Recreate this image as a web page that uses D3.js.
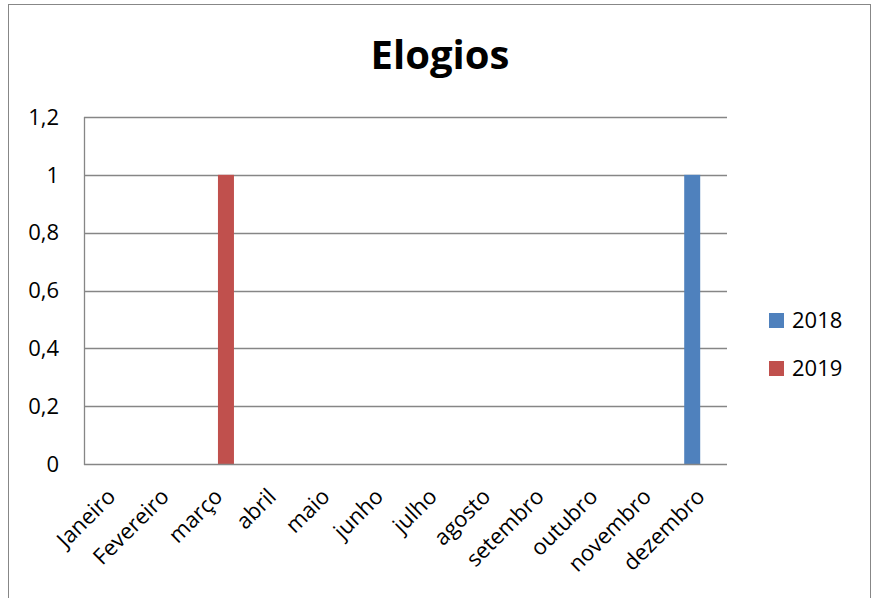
<!DOCTYPE html>
<html>
<head>
<meta charset="utf-8">
<script src="https://cdn.jsdelivr.net/npm/d3@7"></script>
<style>
  html, body { margin: 0; padding: 0; background: #fff; }
  svg { display: block; font-family: "Open Sans", "Noto Sans", sans-serif; }
</style>
</head>
<body>
<svg id="chart" width="873" height="598"></svg>
<script>
const months = ["Janeiro","Fevereiro","março","abril","maio","junho","julho","agosto","setembro","outubro","novembro","dezembro"];
const seriesNames = ["2018","2019"];
const values2018 = [0,0,0,0,0,0,0,0,0,0,0,1];
const values2019 = [0,0,1,0,0,0,0,0,0,0,0,0];
const yTicks = [0,0.2,0.4,0.6,0.8,1,1.2];
const colors = ["#4F81BD","#C0504D"];
const titleText = "Elogios";

const svg = d3.select("#chart");
const plot = {left: 84, right: 727, top: 117, bottom: 464};

// outer frame
svg.append("rect")
  .attr("x", 8.5).attr("y", 4.5)
  .attr("width", 862).attr("height", 620)
  .attr("fill", "#fff").attr("stroke", "#878787").attr("stroke-width", 1);

const x0 = d3.scaleBand().domain(months).range([plot.left, plot.right]).paddingInner(0).paddingOuter(0);
const barW = 16;
const groupW = barW * seriesNames.length;
const x1 = d3.scaleBand().domain(seriesNames)
  .range([(x0.bandwidth() - groupW) / 2, (x0.bandwidth() + groupW) / 2]).padding(0);
const y = d3.scaleLinear().domain([0, 1.2]).range([plot.bottom, plot.top]);

// gridlines
svg.append("g").selectAll("line").data(yTicks.filter(d => d > 0)).enter().append("line")
  .attr("x1", plot.left).attr("x2", plot.right)
  .attr("y1", d => Math.round(y(d)) + 0.5).attr("y2", d => Math.round(y(d)) + 0.5)
  .attr("stroke", "#868686").attr("stroke-width", 1.3);

// bars
const data = months.map((m, i) => ({month: m, vals: [values2018[i], values2019[i]]}));
const groups = svg.append("g").selectAll("g").data(data).enter().append("g")
  .attr("transform", d => `translate(${x0(d.month)},0)`);
groups.selectAll("rect").data(d => d.vals.map((v, j) => ({series: seriesNames[j], v, j})))
  .enter().append("rect")
  .attr("x", d => x1(d.series))
  .attr("width", x1.bandwidth())
  .attr("y", d => y(d.v))
  .attr("height", d => y(0) - y(d.v))
  .attr("fill", d => colors[d.j]);

// axes lines
svg.append("line").attr("x1", plot.left + 0.5).attr("x2", plot.left + 0.5)
  .attr("y1", plot.top).attr("y2", plot.bottom + 1)
  .attr("stroke", "#868686").attr("stroke-width", 1.3);
svg.append("line").attr("x1", plot.left).attr("x2", plot.right)
  .attr("y1", plot.bottom + 0.5).attr("y2", plot.bottom + 0.5)
  .attr("stroke", "#868686").attr("stroke-width", 1.3);

// y tick labels
const fmt = d => String(d3.format("~g")(d)).replace(".", ",");
svg.append("g").selectAll("text").data(yTicks).enter().append("text")
  .attr("x", 59).attr("y", d => y(d))
  .attr("dy", "0.35em")
  .attr("text-anchor", "end")
  .attr("font-size", 22)
  .attr("fill", "#000")
  .text(fmt);

// x tick labels
svg.append("g").selectAll("text").data(months).enter().append("text")
  .attr("transform", d => `translate(${x0(d) + x0.bandwidth() / 2 + 6},498) rotate(-45)`)
  .attr("text-anchor", "end")
  .attr("font-size", 22)
  .attr("fill", "#000")
  .text(d => d);

// title
svg.append("text")
  .attr("x", 440).attr("y", 69)
  .attr("text-anchor", "middle")
  .attr("font-size", 40).attr("font-weight", "bold")
  .attr("fill", "#000")
  .text(titleText);

// legend
const legend = svg.append("g").selectAll("g").data(seriesNames).enter().append("g")
  .attr("transform", (d, i) => `translate(769,${313 + i * 48})`);
legend.append("rect").attr("width", 15).attr("height", 15).attr("fill", (d, i) => colors[i]);
legend.append("text").attr("x", 23).attr("y", 15)
  .attr("font-size", 22).attr("fill", "#000").text(d => d);
</script>
</body>
</html>
